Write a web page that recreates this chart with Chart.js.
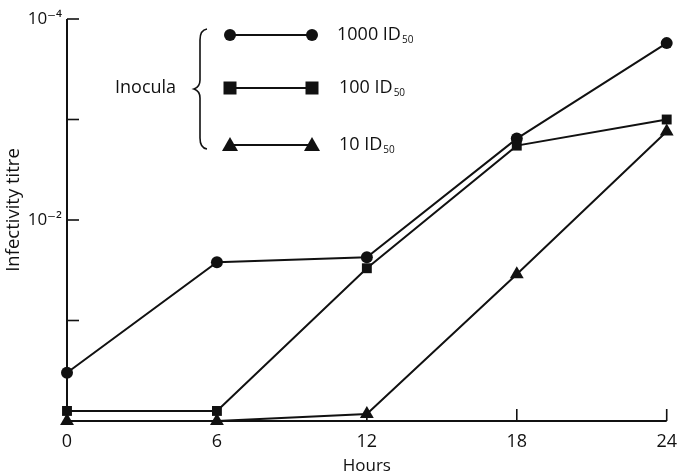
<!DOCTYPE html>
<html>
<head>
<meta charset="utf-8">
<script src="https://cdn.jsdelivr.net/npm/chart.js@4.4.1/dist/chart.umd.min.js"></script>
<style>
    html, body { margin: 0; padding: 0; background: #fff; }
    #wrap { width: 687px; height: 476px; position: relative; }
</style>
</head>
<body>
<div id="wrap"><canvas id="chart"></canvas></div>
<script>
    "use strict";

    // hours sampled
    const hours = [0, 6, 12, 18, 24];
    // titre, in tick steps above the x axis
    const titre1000 = [0.48, 1.58, 1.63, 2.81, 3.76];
    const titre100 = [0.10, 0.10, 1.52, 2.74, 3.00];
    const titre10 = [0.00, 0.00, 0.07, 1.46, 2.88];
    const seriesNames = ["1000 ID", "100 ID", "10 ID"];
    const yTickLabels = { 4: "10\u207B\u2074", 2: "10\u207B\u00B2" };

    const FONT = "'Open Sans', 'DejaVu Sans', sans-serif";
    const INK = "#111";

    function marker(ctx, style, x, y) {
        ctx.beginPath();
        if (style === "circle") {
            ctx.arc(x, y, 6, 0, Math.PI * 2);
        } else if (style === "rect") {
            ctx.rect(x - 6.5, y - 6.5, 13, 13);
        } else {
            ctx.moveTo(x, y - 8);
            ctx.lineTo(x + 8, y + 6);
            ctx.lineTo(x - 8, y + 6);
            ctx.closePath();
        }
        ctx.fill();
    }

    // axis lines with inward ticks, y title
    const axesPlugin = {
        id: "axesInward",
        beforeDatasetsDraw(chart) {
            const { ctx, chartArea, scales } = chart;
            ctx.save();
            ctx.strokeStyle = INK;
            ctx.lineWidth = 2;
            ctx.beginPath();
            ctx.moveTo(chartArea.left, chartArea.top);
            ctx.lineTo(chartArea.left, chartArea.bottom);
            ctx.lineTo(chartArea.right, chartArea.bottom);
            ctx.stroke();
            ctx.lineWidth = 1.6;
            [1, 2, 3, 4].forEach(v => {
                const y = scales.y.getPixelForValue(v);
                ctx.beginPath();
                ctx.moveTo(chartArea.left, y);
                ctx.lineTo(chartArea.left + 12, y);
                ctx.stroke();
            });
            hours.forEach(h => {
                const x = scales.x.getPixelForValue(h);
                ctx.beginPath();
                ctx.moveTo(x, chartArea.bottom);
                ctx.lineTo(x, chartArea.bottom - 12);
                ctx.stroke();
            });
            ctx.translate(14, 210);
            ctx.rotate(-Math.PI / 2);
            ctx.fillStyle = INK;
            ctx.font = "18.5px " + FONT;
            ctx.textAlign = "center";
            ctx.textBaseline = "middle";
            ctx.fillText("Infectivity titre", 0, 0);
            ctx.restore();
        }
    };

    // "Inocula" key with brace
    const keyPlugin = {
        id: "inoculaKey",
        afterDraw(chart) {
            const ctx = chart.ctx;
            const rows = [35, 88, 145];
            const styles = ["circle", "rect", "triangle"];
            ctx.save();
            ctx.fillStyle = INK;
            ctx.strokeStyle = INK;
            ctx.lineWidth = 2;
            rows.forEach((y, i) => {
                ctx.beginPath();
                ctx.moveTo(230, y);
                ctx.lineTo(312, y);
                ctx.stroke();
                marker(ctx, styles[i], 230, y);
                marker(ctx, styles[i], 312, y);
                ctx.font = "18px " + FONT;
                ctx.textBaseline = "middle";
                ctx.textAlign = "left";
                const lx = i === 0 ? 337 : 339;
                ctx.fillText(seriesNames[i], lx, y);
                const w = ctx.measureText(seriesNames[i]).width;
                ctx.font = "10px " + FONT;
                ctx.fillText("50", lx + w + 1, y + 5);
            });
            ctx.font = "18px " + FONT;
            ctx.textBaseline = "middle";
            ctx.fillText("Inocula", 115, 88);
            // brace
            ctx.lineWidth = 1.6;
            ctx.beginPath();
            ctx.moveTo(207, 29);
            ctx.quadraticCurveTo(200, 30, 200, 40);
            ctx.lineTo(200, 80);
            ctx.quadraticCurveTo(200, 87, 194, 89);
            ctx.quadraticCurveTo(200, 91, 200, 98);
            ctx.lineTo(200, 138);
            ctx.quadraticCurveTo(200, 148, 207, 149);
            ctx.stroke();
            ctx.restore();
        }
    };

    function dataset(values, style, radius) {
        return {
            data: values,
            borderColor: INK,
            backgroundColor: INK,
            borderWidth: 2,
            pointStyle: style,
            pointRadius: radius,
            pointBackgroundColor: INK,
            pointBorderColor: INK,
            pointBorderWidth: 0,
            tension: 0,
            clip: false
        };
    }

    new Chart(document.getElementById("chart").getContext("2d"), {
        type: "line",
        data: {
            labels: hours,
            datasets: [
                dataset(titre10, "triangle", 8),
                dataset(titre100, "rect", 7),
                dataset(titre1000, "circle", 6)
            ]
        },
        options: {
            responsive: true,
            maintainAspectRatio: false,
            animation: false,
            devicePixelRatio: 1,
            layout: { padding: { top: 19, right: 10, left: 0, bottom: 0 } },
            plugins: { legend: { display: false }, tooltip: { enabled: false } },
            scales: {
                x: {
                    type: "linear",
                    min: 0,
                    max: 24,
                    grid: { display: false, drawTicks: false },
                    border: { display: false },
                    afterFit: scale => { scale.height = 55; },
                    ticks: {
                        stepSize: 6,
                        padding: 10,
                        color: INK,
                        font: { family: FONT, size: 18 }
                    },
                    title: {
                        display: true,
                        text: "Hours",
                        color: INK,
                        font: { family: FONT, size: 17 },
                        padding: { top: 0, bottom: 0 }
                    }
                },
                y: {
                    min: 0,
                    max: 4,
                    grid: { display: false, drawTicks: false },
                    border: { display: false },
                    afterFit: scale => { scale.width = 67; },
                    ticks: {
                        stepSize: 1,
                        padding: 5,
                        color: INK,
                        font: { family: FONT, size: 17 },
                        callback: value => yTickLabels[value] || ""
                    }
                }
            }
        },
        plugins: [axesPlugin, keyPlugin]
    });
</script>
</body>
</html>
